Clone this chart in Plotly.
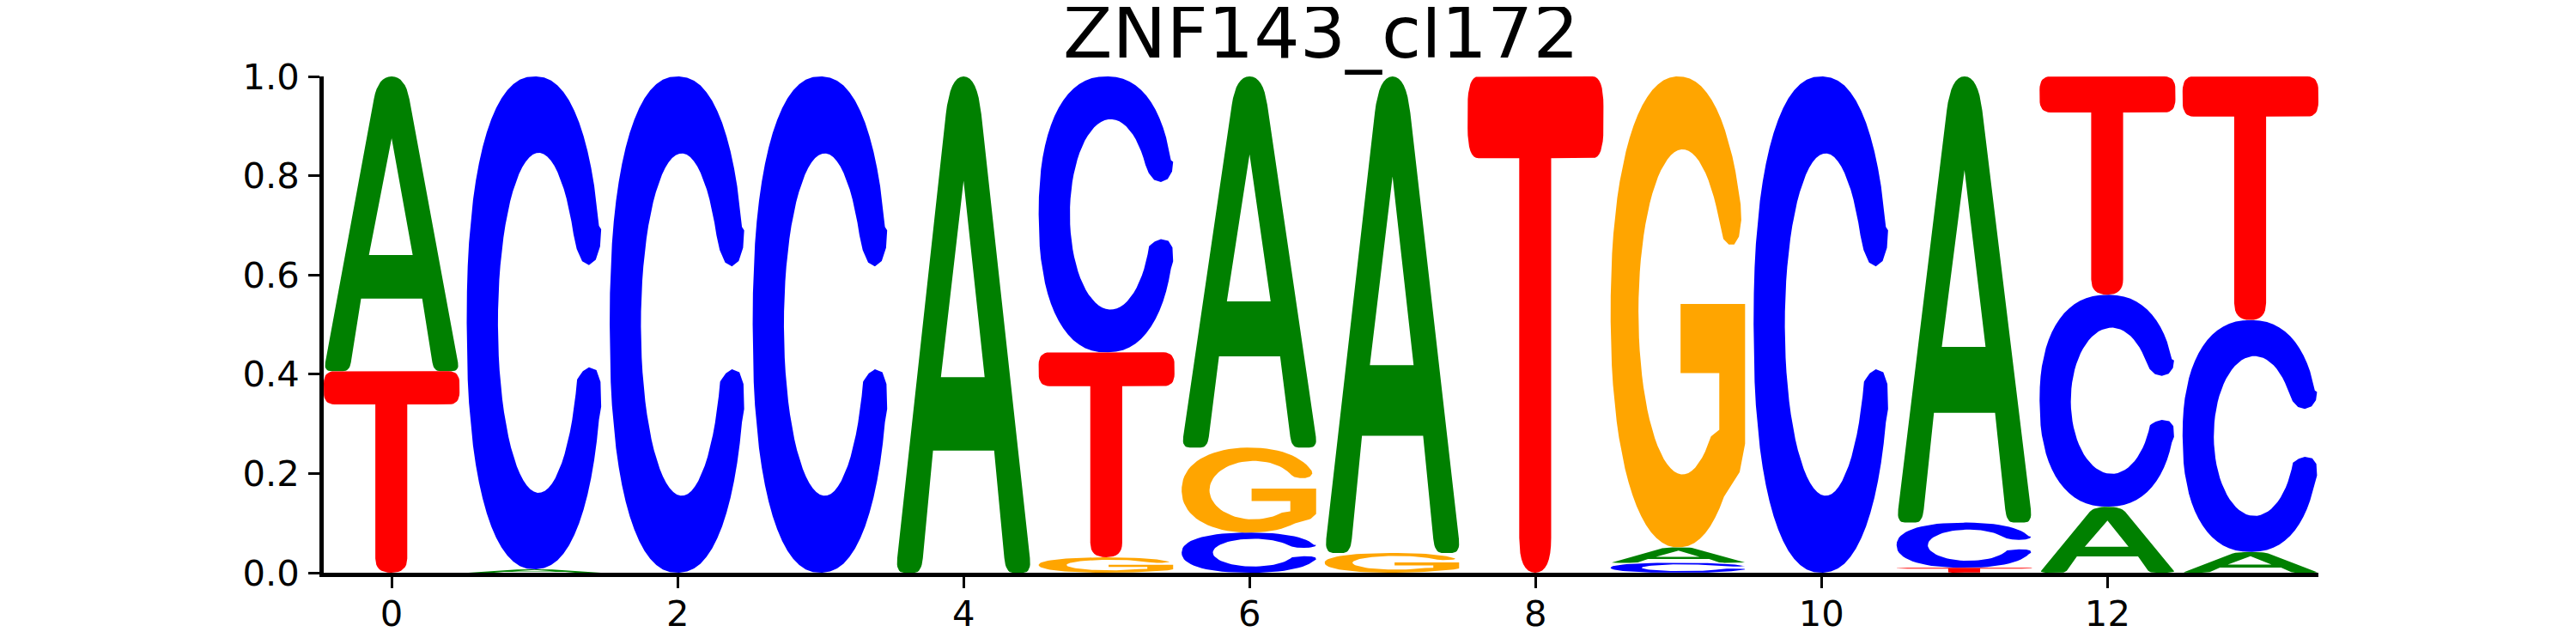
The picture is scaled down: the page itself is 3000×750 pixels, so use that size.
import math
import plotly.graph_objects as go

# position-wise letter probabilities
positions = list(range(14))
prob_A = [0.594, 0.007, 0.0, 0.0, 1.0, 0.0, 0.748, 0.960, 0.0, 0.031, 0.0, 0.899, 0.133, 0.042]
prob_C = [0.0, 0.993, 1.0, 1.0, 0.0, 0.556, 0.081, 0.0, 0.0, 0.020, 1.0, 0.091, 0.427, 0.467]
prob_G = [0.0, 0.0, 0.0, 0.0, 0.0, 0.031, 0.171, 0.040, 0.0, 0.949, 0.0, 0.0, 0.0, 0.0]
prob_T = [0.406, 0.0, 0.0, 0.0, 0.0, 0.413, 0.0, 0.0, 1.0, 0.0, 0.0, 0.010, 0.440, 0.491]

bases = ['A', 'C', 'G', 'T']
colors = {'A': 'green', 'C': 'blue', 'G': 'orange', 'T': 'red'}
xtick_vals = [0, 2, 4, 6, 8, 10, 12]
ytick_vals = [0.0, 0.2, 0.4, 0.6, 0.8, 1.0]
title = 'ZNF143_cl172'

probs = {'A': prob_A, 'C': prob_C, 'G': prob_G, 'T': prob_T}
letter_width = 0.95


def superellipse(cx, cy, a, b, t0, t1, n=60, p=2.0):
    pts = []
    for i in range(n + 1):
        t = math.radians(t0 + (t1 - t0) * i / n)
        c, s = math.cos(t), math.sin(t)
        pts.append((cx + a * math.copysign(abs(c) ** (2 / p), c),
                    cy + b * math.copysign(abs(s) ** (2 / p), s)))
    return pts


def round_corners(pts, corners, n=8):
    # corners: index -> (radius in u, radius in v), quadratic bezier at each
    out = []
    N = len(pts)
    for i, (x, y) in enumerate(pts):
        if i not in corners:
            out.append((x, y))
            continue
        ru, rv = corners[i]
        ends = []
        for j in (i - 1, (i + 1) % N):
            dx = (pts[j][0] - x) / ru
            dy = (pts[j][1] - y) / rv
            L = math.hypot(dx, dy)
            k = min(1.0, L / 2) / L
            ends.append((x + dx * k * ru, y + dy * k * rv))
        (x1, y1), (x2, y2) = ends
        for m in range(n + 1):
            t = m / n
            out.append(((1 - t) ** 2 * x1 + 2 * (1 - t) * t * x + t * t * x2,
                        (1 - t) ** 2 * y1 + 2 * (1 - t) * t * y + t * t * y2))
    return out


def glyph(base):
    # contours in a unit box; holes run the other way round
    if base == 'A':
        outer = [(0, 0), (0.19, 0), (0.275, 0.246), (0.725, 0.246), (0.81, 0), (1, 0), (0.6, 1), (0.4, 1)]
        outer = round_corners(outer, {0: (0.06, 0.03), 1: (0.05, 0.03), 4: (0.05, 0.03),
                                      5: (0.06, 0.03), 6: (0.1, 0.08), 7: (0.1, 0.08)})
        hole = [(0.333, 0.394), (0.5, 0.79), (0.655, 0.394)]
        return [outer, hole]
    if base == 'T':
        pts = [(0.38, 0), (0.615, 0), (0.615, 0.835), (1, 0.835), (1, 1), (0, 1), (0, 0.835), (0.38, 0.835)]
        pts = round_corners(pts, {0: (0.12, 0.07), 1: (0.12, 0.07), 3: (0.08, 0.06),
                                  4: (0.08, 0.06), 5: (0.08, 0.06), 6: (0.08, 0.06)})
        return [pts]
    if base == 'C':
        outer = superellipse(0.5, 0.5, 0.5, 0.5, 20, 340, p=2.3)
        lower_cap = [(0.99, 0.33), (0.985, 0.38), (0.955, 0.404), (0.9, 0.41), (0.855, 0.402), (0.825, 0.39)]
        inner = superellipse(0.53, 0.5, 0.3, 0.345, 340.5, 31.4)
        upper_cap = [(0.81, 0.65), (0.85, 0.625), (0.9, 0.617), (0.95, 0.628), (0.982, 0.655), (0.99, 0.69)]
        return [outer + lower_cap + inner + upper_cap]
    # G
    outer = superellipse(0.5, 0.5, 0.5, 0.5, 25, 310, p=2.2)
    stem = [(0.95, 0.16), (0.99, 0.22), (0.99, 0.517), (0.515, 0.517), (0.515, 0.37), (0.80, 0.37), (0.80, 0.25)]
    inner = superellipse(0.53, 0.5, 0.325, 0.345, -50, -329)
    cap = [(0.83, 0.655), (0.87, 0.643), (0.91, 0.643), (0.945, 0.66), (0.962, 0.695)]
    return [outer + stem + inner + cap]


shapes = {b: glyph(b) for b in bases}
xs = {b: [] for b in bases}
ys = {b: [] for b in bases}

for i, pos in enumerate(positions):
    # smallest letter at the bottom, biggest on top
    col = sorted(bases, key=lambda b: probs[b][i])
    bottom = 0.0
    for b in col:
        h = probs[b][i]
        if h <= 0:
            continue
        x0 = pos - letter_width / 2
        for contour in shapes[b]:
            xs[b] += [x0 + u * letter_width for u, v in contour] + [None]
            ys[b] += [bottom + v * h for u, v in contour] + [None]
        bottom += h

fig = go.Figure()
for b in bases:
    fig.add_trace(go.Scatter(x=xs[b], y=ys[b], mode='lines', fill='toself',
                             fillcolor=colors[b], line=dict(width=0, color=colors[b]),
                             hoverinfo='skip', name=b))

# the page adds an 8px body margin, so margins are 8px less at top/left
tickfont = dict(family='DejaVu Sans', size=41.7, color='black')
fig.update_layout(
    width=3000, height=750,
    margin=dict(l=369, r=308, t=81, b=91),
    plot_bgcolor='white', paper_bgcolor='white',
    showlegend=False,
    title=dict(text=title, x=0.5, xref='paper', xanchor='center',
               y=0.961, yref='container', yanchor='middle',
               font=dict(family='DejaVu Sans', size=84, color='black')),
)
fig.update_xaxes(range=[-0.475, 13.475], tickmode='array', tickvals=xtick_vals,
                 ticks='outside', ticklen=13, tickwidth=3.3, tickcolor='black',
                 showline=True, linewidth=4.7, linecolor='black',
                 showgrid=False, zeroline=False, tickfont=tickfont,
                 ticklabelstandoff=-6)
fig.update_yaxes(range=[0, 1], tickmode='array', tickvals=ytick_vals, tickformat='.1f',
                 ticks='outside', ticklen=13, tickwidth=3.3, tickcolor='black',
                 showline=True, linewidth=4.7, linecolor='black',
                 showgrid=False, zeroline=False, tickfont=tickfont,
                 ticklabelstandoff=2)

fig.write_html("out.html")
